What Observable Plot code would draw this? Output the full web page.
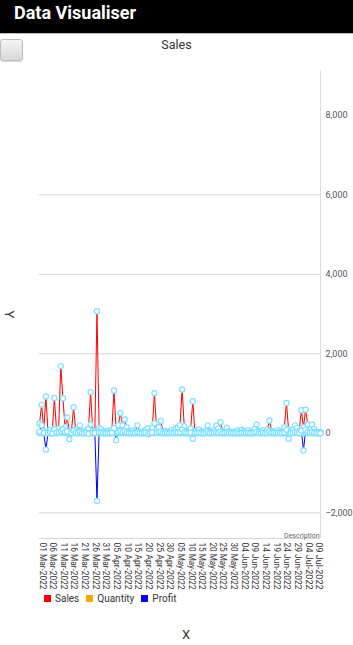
<!DOCTYPE html>
<html>
<head>
<meta charset="utf-8">
<script src="https://cdn.jsdelivr.net/npm/d3@7"></script>
<script src="https://cdn.jsdelivr.net/npm/@observablehq/plot@0.6"></script>
<style>
  html, body { margin: 0; padding: 0; background: #fff; width: 353px; height: 645px; overflow: hidden; font-family: Roboto, "Noto Sans", sans-serif; }
  #header { position: absolute; left: 0; top: 0; width: 353px; height: 33px; background: #000; border-bottom: 1px solid #bbb; }
  #header span { position: absolute; left: 14px; top: 2px; color: #fff; font-weight: bold; font-size: 18px; }
  #btn { position: absolute; left: 0; top: 39px; width: 21px; height: 20px; border: 1px solid #bdbdbd; border-radius: 3px; background: linear-gradient(#f4f4f4, #d9d9d9); box-shadow: 0 1px 1px rgba(0,0,0,0.15); }
  #title { position: absolute; left: 0; width: 353px; top: 37px; text-align: center; font-size: 12.5px; color: #333; }
  #chart { position: absolute; left: 0; top: 60px; }
  #ylab { position: absolute; left: 6px; top: 307px; font-size: 13px; color: #333; transform: rotate(90deg); }
  #xlab { position: absolute; left: 182px; top: 627px; font-size: 13px; color: #333; }
  #legend { position: absolute; left: 44px; top: 593px; font-size: 10px; color: #333; display: flex; align-items: center; }
  #legend .sw { width: 7px; height: 7px; display: inline-block; margin-right: 4px; }
  #legend .it { display: flex; align-items: center; margin-right: 7px; }
</style>
</head>
<body>
<div id="header"><span>Data Visualiser</span></div>
<div id="btn"></div>
<div id="title">Sales</div>
<div id="chart"></div>
<div id="ylab">Y</div>
<div id="xlab">X</div>
<div id="legend"></div>
<script>
// ---- data (daily, starting 01 Mar 2022) ----
const startDate = "2022-03-01";
const seriesNames = ["Sales", "Quantity", "Profit"];
const seriesColors = ["#ff0000", "#ffa500", "#0000ff"];
const sales = [
  245, 715, 60, 925, 30, 90, 45, 890, 80, 120,
  1690, 880, 150, 400, 60, 40, 655, 90, 30, 200,
  50, 25, 70, 110, 1035, 60, 40, 3070, 130, 100,
  45, 20, 60, 35, 90, 1075, 80, 200, 510, 200,
  345, 150, 60, 40, 70, 30, 200, 40, 25, 60,
  90, 120, 50, 140, 1010, 90, 150, 310, 40, 60,
  30, 45, 80, 35, 120, 150, 200, 1100, 180, 60,
  40, 120, 805, 50, 30, 90, 40, 25, 60, 200,
  45, 30, 80, 190, 120, 280, 60, 40, 135, 50,
  30, 20, 45, 70, 35, 90, 60, 40, 80, 30,
  50, 110, 220, 60, 40, 75, 30, 90, 320, 60,
  45, 30, 80, 50, 40, 150, 765, 100, 60, 80,
  200, 130, 60, 580, 150, 595, 220, 90, 220, 110,
  40, 30, 25
];
const quantity = [
  5, 9, 2, 11, 1, 3, 2, 8, 3, 4,
  14, 9, 5, 6, 2, 2, 7, 3, 1, 5,
  2, 1, 3, 4, 9, 2, 2, 12, 4, 3,
  2, 1, 2, 2, 3, 8, 3, 5, 7, 4,
  6, 4, 2, 2, 3, 1, 5, 2, 1, 2,
  3, 4, 2, 4, 9, 3, 4, 6, 2, 2,
  1, 2, 3, 2, 4, 4, 5, 10, 4, 2,
  2, 4, 8, 2, 1, 3, 2, 1, 2, 5,
  2, 1, 3, 5, 4, 6, 2, 2, 4, 2,
  1, 1, 2, 3, 2, 3, 2, 2, 3, 1,
  2, 4, 5, 2, 2, 3, 1, 3, 6, 2,
  2, 1, 3, 2, 2, 4, 8, 3, 2, 3,
  5, 4, 2, 7, 4, 7, 5, 3, 5, 4,
  2, 1, 1
];
const profit = [
  40, 200, 12, -410, 6, 18, -4, 110, 15, 22,
  60, 95, 25, 45, -150, 8, 70, 14, 5, 30,
  9, 4, 12, -10, 220, 11, 7, -1700, 20, 18,
  8, 3, 10, 6, 15, 130, -175, 35, 60, 28,
  50, 20, 9, 7, 12, 5, 25, 6, 4, 10,
  15, -20, 9, 22, 250, 14, 30, 45, 7, 10,
  5, 8, 14, 6, 18, 20, 35, 95, 25, 10,
  7, 15, -140, 8, 5, 14, 6, 4, 10, 30,
  8, 5, 12, 28, 15, 40, 10, 6, 20, 8,
  5, 3, 7, 11, 6, 14, 9, 6, 12, 5,
  8, 18, 35, 10, 6, 12, 5, 14, 45, 10,
  7, 5, 12, 8, 6, 20, 90, -140, 9, 12,
  30, 18, 9, 70, -430, 80, 30, 14, 35, 16,
  6, 5, 4
];
const yTicks = [-2000, 0, 2000, 4000, 6000, 8000];
const yGrid = [-2000, 0, 2000, 4000, 6000];
const yDomain = [-2647, 9127];
const xTickLabels = [
  "01 Mar-2022", "06 Mar-2022", "11 Mar-2022", "16 Mar-2022", "21 Mar-2022", "26 Mar-2022", "31 Mar-2022",
  "05 Apr-2022", "10 Apr-2022", "15 Apr-2022", "20 Apr-2022", "25 Apr-2022", "30 Apr-2022",
  "05 May-2022", "10 May-2022", "15 May-2022", "20 May-2022", "25 May-2022", "30 May-2022",
  "04 Jun-2022", "09 Jun-2022", "14 Jun-2022", "19 Jun-2022", "24 Jun-2022", "29 Jun-2022",
  "04 Jul-2022", "09 Jul-2022"
];

// ---- build tables ----
const parseISO = d3.utcParse("%Y-%m-%d");
const parseTick = d3.utcParse("%d %b-%Y");
const fmtTick = d3.utcFormat("%d %b-%Y");
const t0 = parseISO(startDate);
const dates = sales.map((_, i) => d3.utcDay.offset(t0, i));
const values = [sales, quantity, profit];
const long = [];
seriesNames.forEach((s, k) => {
  values[k].forEach((v, i) => long.push({series: s, date: dates[i], value: v, color: seriesColors[k]}));
});
const tickDates = xTickLabels.map(parseTick);
const xDomain = [dates[0], dates[dates.length - 1]];

const chart = Plot.plot({
  width: 353,
  height: 535,
  marginLeft: 39,
  marginRight: 33,
  marginTop: 10,
  marginBottom: 57,
  style: {fontFamily: "Roboto, sans-serif", background: "transparent"},
  x: {type: "utc", domain: xDomain, axis: null},
  y: {domain: yDomain, axis: null},
  marks: [
    Plot.ruleY(yGrid, {stroke: "#d4d4d4", strokeWidth: 1}),
    Plot.ruleY([yDomain[0]], {stroke: "#d4d4d4", strokeWidth: 1}),
    Plot.ruleX([xDomain[1]], {stroke: "#dcdcdc", strokeWidth: 1}),
    Plot.axisY(yTicks, {anchor: "right", label: null, tickSize: 0, tickPadding: 5, tickFormat: d3.format(","), fontSize: 9, fill: "#555"}),
    Plot.text(tickDates, {x: d => d, frameAnchor: "bottom", text: d => fmtTick(d), rotate: 90, textAnchor: "start", dy: 4, fontSize: 8.5, fill: "#333"}),
    ...seriesNames.map((s, k) => Plot.line(long.filter(d => d.series === s), {x: "date", y: "value", stroke: seriesColors[k], strokeWidth: 1})),
    Plot.dot(long, {x: "date", y: "value", r: 2.6, stroke: "#80e0ff", strokeWidth: 1.2, fill: "white"}),
    Plot.text(["Description"], {frameAnchor: "bottom-right", textAnchor: "end", lineAnchor: "bottom", dx: -1, dy: -1, fontSize: 7, fill: "#666"})
  ]
});
// condense the rotated date labels to the reference's length
d3.select(chart).selectAll("text")
  .filter(function () { return xTickLabels.includes(this.textContent); })
  .attr("textLength", 47)
  .attr("lengthAdjust", "spacingAndGlyphs");
document.getElementById("chart").appendChild(chart);

const legend = document.getElementById("legend");
seriesNames.forEach((s, k) => {
  const it = document.createElement("span");
  it.className = "it";
  it.innerHTML = `<span class="sw" style="background:${seriesColors[k]}"></span>${s}`;
  legend.appendChild(it);
});
</script>
</body>
</html>
